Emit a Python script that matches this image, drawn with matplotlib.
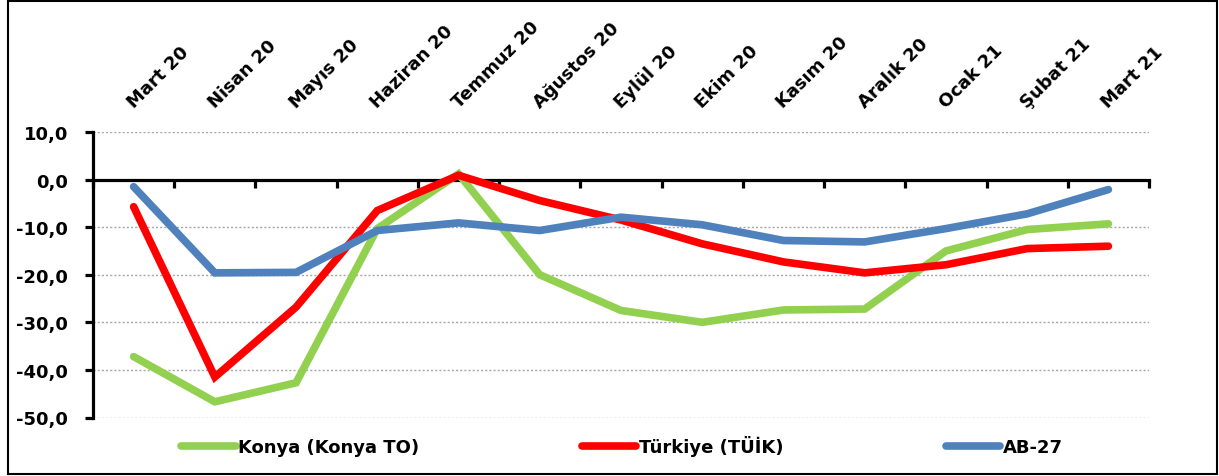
import matplotlib
matplotlib.use("Agg")
import matplotlib.pyplot as plt
from matplotlib.patches import Rectangle
from matplotlib.ticker import FixedLocator

months = ["Mart 20", "Nisan 20", "Mayıs 20", "Haziran 20", "Temmuz 20", "Ağustos 20",
          "Eylül 20", "Ekim 20", "Kasım 20", "Aralık 20", "Ocak 21", "Şubat 21", "Mart 21"]
konya = [-37.2, -46.7, -42.7, -10.3, 1.2, -20.0, -27.5, -30.0, -27.4, -27.2, -15.0, -10.5, -9.3]
turkiye = [-5.7, -41.5, -26.8, -6.5, 0.9, -4.4, -8.5, -13.5, -17.3, -19.6, -17.9, -14.5, -14.0]
ab27 = [-1.5, -19.6, -19.5, -10.7, -9.1, -10.7, -7.9, -9.5, -12.8, -13.1, -10.3, -7.2, -2.1]
series_names = ["Konya (Konya TO)", "Türkiye (TÜİK)", "AB-27"]
colors = ["#92D050", "#FF0000", "#4F81BD"]
yticks = [10, 0, -10, -20, -30, -40, -50]

plt.rcParams['font.family'] = ['DejaVu Sans']
plt.rcParams['font.weight'] = 'bold'

W, H = 1219, 477
fig = plt.figure(figsize=(W / 100, H / 100), dpi=100)
ax = fig.add_axes([93 / W, 1 - 418.5 / H, (1149 - 93) / W, (418.5 - 133) / H])

x = list(range(len(months)))
for vals, name, c in zip([konya, turkiye, ab27], series_names, colors):
    ax.plot(x, vals, color=c, lw=5.5, label=name, solid_capstyle='round',
            solid_joinstyle='miter', zorder=3)

ax.set_xlim(-0.5, len(months) - 0.5)
ax.set_ylim(-50, 10)
ax.set_yticks(yticks)
ax.set_yticklabels([f"{v:.1f}".replace('.', ',') for v in yticks], fontsize=13, fontweight='bold')
for v in yticks:
    if v != 0:
        ax.axhline(v, color='#A6A6A6', lw=1.0, ls=(0, (1.5, 1.5)), zorder=1)

ax.spines['top'].set_visible(False)
ax.spines['right'].set_visible(False)
ax.spines['bottom'].set_position(('data', 0))
ax.spines['bottom'].set_linewidth(2.3)
ax.spines['left'].set_linewidth(2.3)
ax.spines['bottom'].set_zorder(2)

ax.tick_params(axis='y', direction='out', length=6, width=2.3, pad=12)

ax.xaxis.set_major_locator(FixedLocator(x))
ax.xaxis.set_minor_locator(FixedLocator([i - 0.5 for i in range(len(months) + 1)]))
ax.set_xticklabels(months)
ax.tick_params(axis='x', which='major', bottom=False, top=False, labelbottom=False,
               labeltop=True, length=0, pad=17)
ax.tick_params(axis='x', which='minor', bottom=True, top=False, direction='out',
               length=6, width=2.3)
for lab in ax.get_xticklabels():
    lab.set_rotation(45)
    lab.set_ha('left')
    lab.set_va('baseline')
    lab.set_rotation_mode('anchor')
    lab.set_fontsize(13)
    lab.set_fontweight('bold')

leg = fig.legend(loc='center', bbox_to_anchor=(622 / W, 1 - 447 / H), ncol=3,
                 frameon=False, fontsize=13, handlelength=3.0, handletextpad=0.15,
                 columnspacing=9.0)
for t in leg.get_texts():
    t.set_fontweight('bold')

fig.patches.append(Rectangle((8 / W, 2 / H), (1217 - 8) / W, (475 - 2) / H,
                             transform=fig.transFigure, fill=False, edgecolor='black',
                             lw=1.5, zorder=10))

fig.savefig("out.png", dpi=100)
